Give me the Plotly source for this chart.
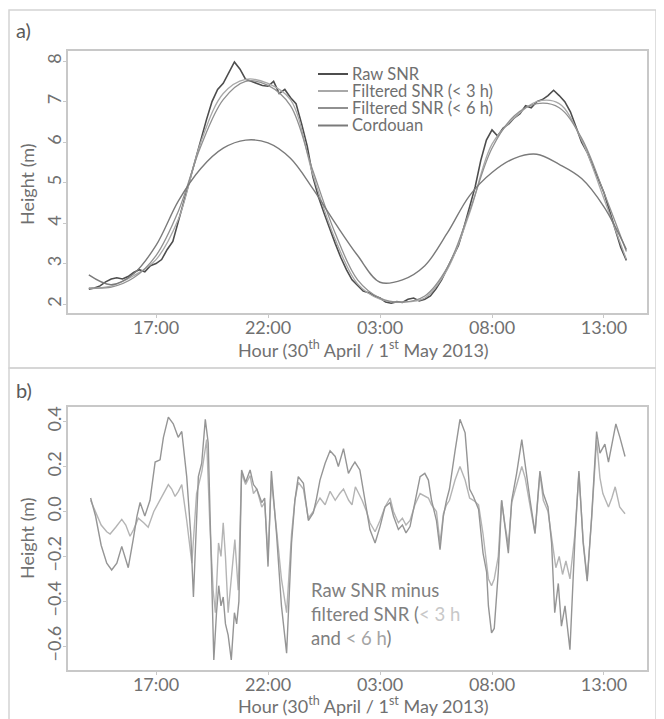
import numpy as np
import pandas as pd
import plotly.graph_objects as go
from plotly.subplots import make_subplots

t0 = pd.Timestamp("2013-04-30 00:00")


def to_time(hours):
    return t0 + pd.to_timedelta(np.asarray(hours, dtype=float), unit="h")


# --- panel a: water heights (m), hours counted from 30 April 00:00 ---
raw_hours = np.arange(14.0, 38.01, 0.25)
raw_snr = [
    2.37, 2.40, 2.45, 2.55,
    2.62, 2.65, 2.62, 2.68,
    2.78, 2.85, 2.80, 2.95,
    3.00, 3.10, 3.35, 3.55,
    4.05, 4.55, 5.10, 5.55,
    6.10, 6.55, 7.00, 7.30,
    7.45, 7.70, 7.98, 7.80,
    7.55, 7.50, 7.45, 7.40,
    7.38, 7.50, 7.20, 7.30,
    7.10, 6.95, 6.45, 5.90,
    5.15, 4.65, 4.25, 3.85,
    3.50, 3.15, 2.85, 2.60,
    2.45, 2.32, 2.28, 2.20,
    2.15, 2.05, 2.02, 2.06,
    2.04, 2.12, 2.15, 2.08,
    2.12, 2.20, 2.38, 2.60,
    2.88, 3.15, 3.45, 3.90,
    4.40, 4.90, 5.55, 6.05,
    6.30, 6.15, 6.35, 6.45,
    6.60, 6.70, 6.90, 6.85,
    7.00, 7.05, 7.15, 7.28,
    7.15, 7.00, 6.75, 6.35,
    6.00, 5.75, 5.40, 5.05,
    4.75, 4.30, 3.85, 3.40,
    3.08,
]

smooth_hours = np.arange(14, 39)
filt_3h = [2.38, 2.45, 2.70, 3.10, 4.10, 6.00, 7.20, 7.55, 7.45, 7.05, 5.20, 3.60, 2.50,
           2.12, 2.05, 2.15, 2.85, 4.25, 5.95, 6.60, 7.00, 6.95, 6.05, 4.60, 3.10]
filt_6h = [2.40, 2.42, 2.65, 3.20, 4.30, 5.90, 7.05, 7.50, 7.40, 6.90, 5.30, 3.75, 2.60,
           2.15, 2.05, 2.20, 2.90, 4.30, 5.85, 6.65, 6.95, 6.85, 6.10, 4.75, 3.30]
cordouan = [2.72, 2.48, 2.75, 3.45, 4.55, 5.35, 5.85, 6.05, 5.98, 5.60, 4.85, 4.00, 3.20,
            2.54, 2.60, 2.95, 3.75, 4.68, 5.25, 5.60, 5.70, 5.45, 5.10, 4.40, 3.35]

# --- panel b: raw SNR minus filtered SNR (m) ---
res6_hours = [14.08, 14.3, 14.55, 14.8, 15.02, 15.25, 15.47, 15.6, 15.76, 15.98, 16.15, 16.29,
              16.5, 16.73, 16.96, 17.18, 17.33, 17.55, 17.77, 17.99, 18.15, 18.37, 18.55, 18.67,
              18.89, 19.04, 19.2, 19.33, 19.45, 19.58, 19.7, 19.8, 19.9, 20.0, 20.1, 20.22,
              20.36, 20.5, 20.6, 20.7, 20.82, 21.0, 21.2, 21.35, 21.5, 21.72, 21.85, 22.0,
              22.15, 22.38, 22.6, 22.83, 23.05, 23.2, 23.35, 23.58, 23.8, 24.02, 24.15, 24.32,
              24.55, 24.77, 25.0, 25.14, 25.37, 25.59, 25.75, 25.88, 26.1, 26.4, 26.55, 26.78,
              27.0, 27.22, 27.45, 27.6, 27.82, 28.0, 28.16, 28.34, 28.56, 28.79, 29.0, 29.16,
              29.3, 29.52, 29.68, 29.83, 29.97, 30.1, 30.35, 30.57, 30.8, 31.0, 31.17, 31.4,
              31.6, 31.76, 31.84, 31.98, 32.1, 32.28, 32.43, 32.58, 32.73, 32.88, 33.1, 33.33,
              33.48, 33.7, 33.92, 34.14, 34.29, 34.5, 34.66, 34.8, 34.96, 35.1, 35.26, 35.48,
              35.7, 35.88, 36.07, 36.25, 36.45, 36.67, 36.82, 37.04, 37.2, 37.34, 37.53, 37.71,
              37.94]
res_6h = [0.06, -0.02, -0.15, -0.23, -0.26, -0.23, -0.155, -0.20, -0.25, -0.125, -0.02, 0.04,
          -0.02, 0.05, 0.22, 0.23, 0.33, 0.42, 0.39, 0.33, 0.356, 0.155, -0.10, -0.38,
          0.155, 0.215, 0.41, 0.305, -0.20, -0.66, -0.45, -0.33, -0.42, -0.38, -0.50, -0.55,
          -0.66, -0.45, -0.50, -0.40, 0.185, 0.13, 0.185, 0.12, 0.10, 0.04, 0.06, -0.245,
          0.18, -0.10, -0.42, -0.63, -0.14, 0.05, 0.155, 0.126, -0.04, -0.006, 0.05, 0.14,
          0.215, 0.27, 0.245, 0.20, 0.28, 0.17, 0.20, 0.22, 0.185, 0.01, -0.08, -0.14,
          -0.067, 0.02, 0.04, -0.02, -0.08, -0.06, -0.095, -0.067, 0.05, 0.155, 0.17, 0.14,
          0.05, -0.04, -0.17, -0.02, 0.05, 0.10, 0.27, 0.41, 0.35, 0.10, 0.067, 0.01,
          -0.185, -0.27, -0.42, -0.54, -0.52, -0.27, 0.05, -0.08, -0.185, 0.05, 0.17, 0.32,
          0.20, 0.05, -0.095, 0.18, 0.08, 0.02, -0.14, -0.45, -0.32, -0.51, -0.42, -0.615,
          -0.125, 0.18, -0.14, -0.31, -0.02, 0.356, 0.26, 0.30, 0.22, 0.29, 0.39, 0.33,
          0.245]

res3_hours = [14.08, 14.3, 14.55, 14.8, 14.95, 15.2, 15.47, 15.65, 15.84, 16.0, 16.21, 16.45,
              16.65, 16.9, 17.18, 17.35, 17.55, 17.7, 17.85, 18.0, 18.15, 18.37, 18.6, 18.81,
              19.05, 19.26, 19.4, 19.55, 19.65, 19.79, 19.9, 20.0, 20.1, 20.22, 20.35, 20.52,
              20.67, 20.82, 21.0, 21.2, 21.35, 21.5, 21.72, 21.85, 22.0, 22.15, 22.38, 22.6,
              22.83, 23.05, 23.2, 23.35, 23.58, 23.8, 24.02, 24.15, 24.32, 24.55, 24.77, 25.0,
              25.2, 25.37, 25.6, 25.75, 25.9, 26.2, 26.4, 26.55, 26.78, 27.0, 27.22, 27.45,
              27.6, 27.82, 28.0, 28.16, 28.34, 28.56, 28.79, 29.0, 29.16, 29.3, 29.52, 29.68,
              29.83, 29.97, 30.1, 30.35, 30.57, 30.8, 31.0, 31.17, 31.4, 31.6, 31.76, 31.84,
              31.98, 32.1, 32.28, 32.43, 32.58, 32.73, 32.88, 33.1, 33.33, 33.48, 33.7, 33.92,
              34.14, 34.29, 34.5, 34.66, 34.85, 35.0, 35.15, 35.3, 35.48, 35.7, 35.88, 36.07,
              36.25, 36.45, 36.67, 36.82, 36.95, 37.2, 37.35, 37.5, 37.7, 37.94]
res_3h = [0.05, 0.0, -0.06, -0.09, -0.10, -0.07, -0.035, -0.06, -0.11, -0.08, -0.03, -0.05,
          -0.07, 0.0, 0.05, 0.08, 0.12, 0.10, 0.067, 0.09, 0.12, -0.04, -0.23, 0.08,
          0.18, 0.32, -0.05, -0.35, -0.45, -0.14, -0.20, -0.05, -0.20, -0.45, -0.30, -0.125,
          -0.35, 0.17, 0.12, 0.16, 0.08, 0.10, 0.02, 0.04, -0.20, 0.14, -0.08, -0.30,
          -0.45, -0.10, 0.05, 0.13, 0.10, -0.03, 0.0, 0.03, 0.06, 0.03, 0.09, 0.05,
          0.08, 0.10, 0.05, 0.03, 0.11, 0.05, 0.0, -0.05, -0.09, -0.04, 0.02, 0.06,
          0.0, -0.05, -0.03, -0.06, -0.04, 0.03, 0.08, 0.07, 0.06, 0.03, 0.0, -0.14,
          -0.01, 0.03, 0.05, 0.14, 0.20, 0.14, 0.06, 0.05, 0.03, -0.10, -0.25, -0.30,
          -0.33, -0.30, -0.20, 0.05, -0.06, -0.15, 0.04, 0.12, 0.20, 0.15, 0.02, -0.10,
          0.17, 0.05, 0.0, -0.12, -0.25, -0.20, -0.28, -0.22, -0.30, -0.10, 0.17, -0.13,
          -0.30, -0.03, 0.32, 0.15, 0.08, 0.02, 0.06, 0.11, 0.02, -0.01]

legend_names = ["Raw SNR", "Filtered SNR (&lt; 3 h)", "Filtered SNR (&lt; 6 h)", "Cordouan"]
legend_colors = ["#4d4d4d", "#a8a8a8", "#909090", "#7a7a7a"]

font_family = "Lato, 'Open Sans', sans-serif"
text_grey = "#707070"
x_title = "Hour (30<sup>th</sup> April / 1<sup>st</sup> May 2013)"

fig = make_subplots(rows=2, cols=1)

# panel a
fig.add_trace(go.Scatter(x=to_time(raw_hours), y=raw_snr, mode="lines", name=legend_names[0],
                         line=dict(color=legend_colors[0], width=1.6)), row=1, col=1)
fig.add_trace(go.Scatter(x=to_time(smooth_hours), y=filt_3h, mode="lines", name=legend_names[1],
                         line=dict(color=legend_colors[1], width=1.3, shape="spline")),
              row=1, col=1)
fig.add_trace(go.Scatter(x=to_time(smooth_hours), y=filt_6h, mode="lines", name=legend_names[2],
                         line=dict(color=legend_colors[2], width=1.3, shape="spline")),
              row=1, col=1)
fig.add_trace(go.Scatter(x=to_time(smooth_hours), y=cordouan, mode="lines", name=legend_names[3],
                         line=dict(color=legend_colors[3], width=1.4, shape="spline")),
              row=1, col=1)

# panel b
fig.add_trace(go.Scatter(x=to_time(res3_hours), y=res_3h, mode="lines",
                         line=dict(color="#b4b4b4", width=1.4)), row=2, col=1)
fig.add_trace(go.Scatter(x=to_time(res6_hours), y=res_6h, mode="lines",
                         line=dict(color="#959595", width=1.4)), row=2, col=1)

x_range = [to_time([13.07])[0], to_time([38.92])[0]]
fig.update_xaxes(
    range=x_range, type="date", tick0="2013-04-30 17:00", dtick=5 * 3600 * 1000,
    tickformat="%H:%M", showgrid=False, zeroline=False, showline=True, mirror=True,
    linecolor="#c8c8c8", linewidth=1.5, ticks="outside", ticklen=3, tickcolor="#c8c8c8",
    tickfont=dict(size=18, color=text_grey), ticklabelstandoff=-5, automargin=False,
    domain=[0, 1],
)
fig.update_yaxes(
    showgrid=False, zeroline=False, showline=True, mirror=True, linecolor="#c8c8c8",
    linewidth=1.5, ticks="outside", ticklen=3, tickcolor="#c8c8c8", tickangle=-90,
    tickfont=dict(size=18, color=text_grey), ticklabelstandoff=-5, automargin=False,
)
fig.update_yaxes(range=[1.78, 8.25], dtick=1, domain=[0.5767, 1.0], row=1, col=1)
fig.update_yaxes(range=[-0.705, 0.465], dtick=0.2, tickformat=".1f", domain=[0.0, 0.4249],
                 row=2, col=1)


# the page body adds an 8 px offset, so the figure is 8 px smaller and the helpers
# below take positions measured on the 664x719 reference
def px_x(px):
    return (px - 68) / 579


def px_y(py):
    return (670 - py) / 619


shapes = [
    dict(type="rect", xref="paper", yref="paper", x0=px_x(9), x1=px_x(656), y0=px_y(368),
         y1=px_y(10), line=dict(color="#d4d4d4", width=1.5)),
    dict(type="rect", xref="paper", yref="paper", x0=px_x(9), x1=px_x(656), y0=px_y(740),
         y1=px_y(368), line=dict(color="#d4d4d4", width=1.5)),
]
annotations = [
    dict(text="a)", xref="paper", yref="paper", x=px_x(14), y=px_y(30), xanchor="left",
         yanchor="middle", showarrow=False, font=dict(size=20, color="#5a5a5a")),
    dict(text="b)", xref="paper", yref="paper", x=px_x(14), y=px_y(390), xanchor="left",
         yanchor="middle", showarrow=False, font=dict(size=20, color="#5a5a5a")),
    dict(text=("Raw SNR minus<br>filtered SNR (<span style='color:#c8c8c8'>&lt; 3 h</span>"
               "<br>and <span style='color:#a4a4a4'>&lt; 6 h</span>)"),
         xref="paper", yref="paper", x=px_x(309), y=px_y(577),
         xanchor="left", yanchor="top", align="left", showarrow=False,
         font=dict(size=18.5, color="#808080")),
]
# axis titles
for ty in (349, 705):
    annotations.append(dict(text=x_title, xref="paper", yref="paper", x=px_x(363), y=px_y(ty),
                            xanchor="center", yanchor="middle", showarrow=False,
                            font=dict(size=18, color=text_grey)))
for ty in (184, 538):
    annotations.append(dict(text="Height (m)", xref="paper", yref="paper", x=px_x(27),
                            y=px_y(ty), xanchor="center", yanchor="middle", textangle=-90,
                            showarrow=False, font=dict(size=18, color=text_grey)))

# hand-drawn legend block (tight line spacing like the original)
legend_rows = [74, 91, 108, 125.5]
for name, color, row_y in zip(legend_names, legend_colors, legend_rows):
    shapes.append(dict(type="line", xref="paper", yref="paper", x0=px_x(318), x1=px_x(348),
                       y0=px_y(row_y), y1=px_y(row_y), line=dict(color=color, width=2)))
    annotations.append(dict(text=name, xref="paper", yref="paper", x=px_x(350), y=px_y(row_y),
                            xanchor="left", yanchor="middle", showarrow=False,
                            font=dict(size=16.5, color=text_grey)))

fig.update_layout(
    width=656, height=711,
    margin=dict(l=60, r=17, t=43, b=49),
    paper_bgcolor="white", plot_bgcolor="white",
    font=dict(family=font_family, color=text_grey),
    showlegend=False,
    shapes=shapes,
    annotations=annotations,
)

fig.write_html("out.html")
